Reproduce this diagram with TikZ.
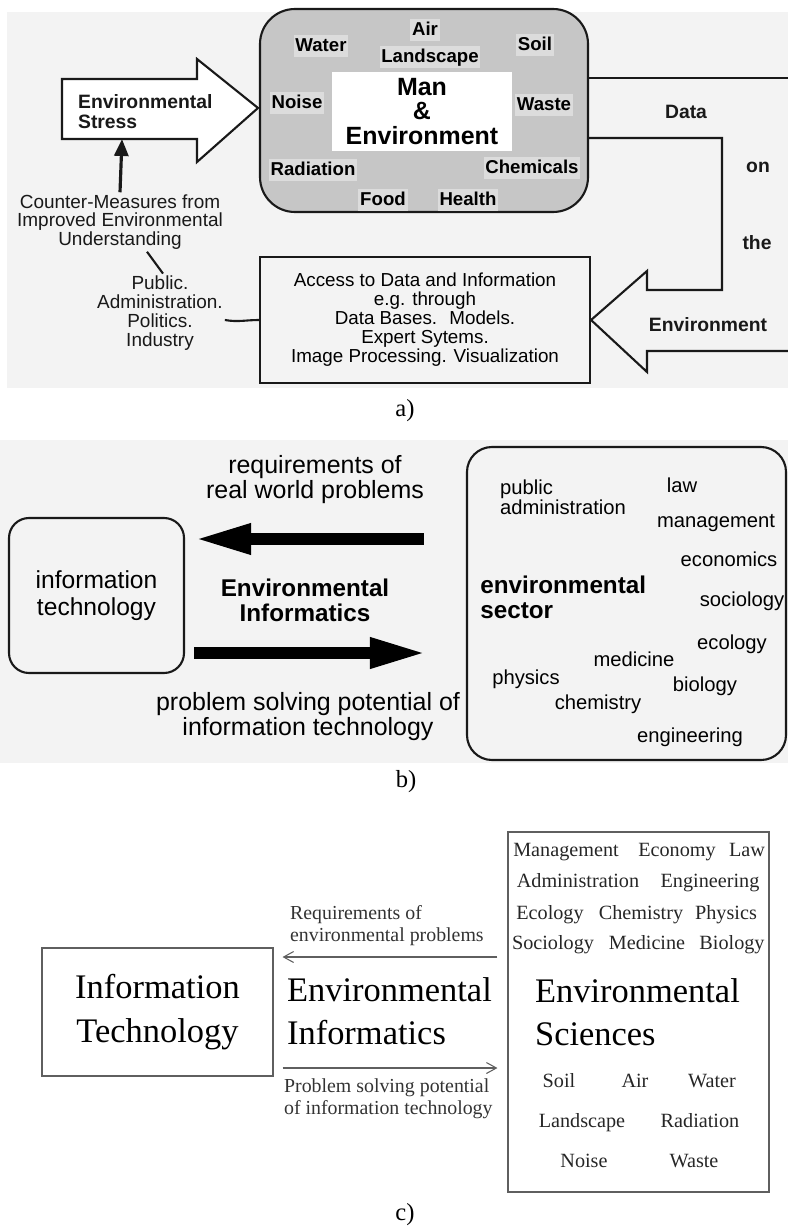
\documentclass[tikz,border=0pt]{standalone}
\usepackage{fontspec}
\setmainfont{Liberation Serif}
\newfontfamily\helv{Liberation Sans}
\usetikzlibrary{arrows.meta,positioning,calc}
\definecolor{ink}{RGB}{25,25,25}
\definecolor{scan}{RGB}{243,243,243}
\definecolor{slate}{RGB}{198,198,198}
\definecolor{wordbg}{RGB}{220,220,220}
\definecolor{pencil}{RGB}{95,95,95}
\newcommand{\fsz}[2]{\fontsize{#1}{#2}\selectfont}
\tikzset{
  >={Stealth[length=2.6mm]},
  outline/.style={draw=ink,line width=1.2pt},
  blob/.style={draw=ink,fill=slate,line width=1.2pt,rounded corners=7mm,
    minimum width=65.6mm,minimum height=40.6mm},
  core/.style={fill=white,minimum width=36mm,minimum height=14.6mm,align=center,
    font=\helv\bfseries\fsz{14.2}{14}},
  word/.style={fill=wordbg,inner sep=1pt,text height=8pt,text depth=2.2pt,
    font=\helv\bfseries\fsz{10.6}{12}},
  tag/.style={font=\helv\bfseries\fsz{11}{11.4},align=left,inner sep=1pt,text=ink},
  note/.style={font=\helv\fsz{10.8}{10.7},align=center,inner sep=1pt,text=ink},
  push/.style={draw=ink,line width=1.8pt,-{Triangle[length=3.4mm,width=2.8mm]}},
  link/.style={draw=ink,line width=1.2pt},
  deskbox/.style={draw=ink,line width=1.2pt,align=center,font=\helv\fsz{10.7}{10.8}},
  round box/.style={draw=ink,line width=1.2pt,rounded corners=#1,align=center,
    font=\helv\fsz{14}{15.4}},
  round box/.default=4mm,
  fat/.style={draw=black,line width=2.4mm,-{Triangle[length=11.4mm,width=5.6mm]}},
  say/.style={font=\helv\fsz{14.2}{14.2},align=center},
  shout/.style={font=\helv\bfseries\fsz{13.8}{14.2},align=center},
  term/.style={font=\helv\fsz{11.5}{11.4},inner sep=1pt,align=left},
  oneline/.style={text height=8.2pt,text depth=2.6pt},
  plain box/.style={draw=pencil,line width=0.6pt},
  big serif/.style={font=\fsz{19.6}{24.6},align=left,inner sep=1pt},
  small serif/.style={font=\fsz{11.3}{12.5},align=left,inner sep=1pt,text=black!80},
  subject/.style={font=\fsz{11.5}{12},inner sep=1pt,text=black!85,oneline},
  thin flow/.style={draw=pencil,line width=0.6pt,-{Straight Barb[length=2mm,width=2.2mm]}},
  caption/.style={font=\fsz{14}{14}},
}
\begin{document}
\begin{tikzpicture}[x=0.2mm,y=-0.2mm]
  \useasboundingbox (0,0) rectangle (788,1227);
  % a) man and environment
  \fill[scan] (7,12) rectangle (788,388);
  \node[blob] (me) at (424,110.5) {};
  \node[core] (man) at (422,111.5) {Man\\\&\\Environment};
  \foreach \w/\x/\y in {Water/321/46,Air/425/30,Landscape/430/57,Soil/535/45,
      Noise/297/103,Waste/544/105,Radiation/313/170,Chemicals/532/168,
      Food/383/200,Health/468/200}
    \node[word] (w\w) at (\x,\y) {\w};
  \draw[outline,fill=white] (62,79) -- (197,79) -- (197,59) -- (258,108)
    -- (197,162) -- (197,139) -- (62,139) -- cycle;
  \node[tag,anchor=west] (stress) at (76,112) {Environmental\\Stress};
  \coordinate (stressfoot) at (122,139);
  \node[note] (counter) at (120,222) {Counter-Measures from\\Improved Environmental\\Understanding};
  \draw[push] (counter.north) -- (stressfoot);
  \node[note,font=\helv\fsz{10.8}{10.8}] (public) at (160,313) {Public.\\Administration.\\Politics.\\Industry};
  \draw[link] ([xshift=5.4mm]counter.south) -- ([xshift=0.6mm]public.north);
  \node[deskbox,minimum width=66mm,minimum height=25.2mm] (access) at (425,320)
    {Access to Data and Information\\e.g. through\\Data Bases. \ Models.\\Expert Sytems.\\Image Processing. Visualization};
  \draw[link] ([yshift=-1.4mm]public.east) to[out=-10,in=180] (access.west);
  \draw[outline] (me.east |- 0,78) -- (790,78);
  \draw[outline,line join=miter] (me.east |- 0,138) -- (722,138) -- (722,290) -- (647,290)
    -- (647,271) -- (access.east) -- (647,372) -- (647,351) -- (790,351);
  \node[tag] (data) at (686,112) {Data};
  \node[tag] (on) at (758,167) {on};
  \node[tag] (the) at (757,243) {the};
  \node[tag] (envir) at (708,325) {Environment};
  \node[caption] (capa) at (405,411) {a)};
  % b) environmental sector
  \fill[scan] (0,440) rectangle (788,763);
  \node[round box,minimum width=35mm,minimum height=31mm] (itb) at (96.5,595.5) {information\\technology};
  \node[round box=5mm,minimum width=63.8mm,minimum height=62.6mm] (esb) at (626.5,603.5) {};
  \draw[fat] ($(esb.west)+(-42,-64.5)$) -- ($(itb.east)+(9,-56.5)$);
  \draw[fat] ($(itb.east)+(9,57.5)$) -- ($(esb.west)+(-39,49.5)$);
  \node[say] (req) at (315,480) {requirements of\\real world problems};
  \node[shout] (ei) at (305,600) {Environmental\\Informatics};
  \node[say] (pot) at (308,717) {problem solving potential of\\information technology};
  \node[shout,align=left,anchor=west,inner sep=0pt] (sector) at (480,597) {environmental\\sector};
  \node[term,anchor=west] (padm) at (498,497) {public\\administration};
  \foreach \w/\x/\y in {law/682/488,management/716/523,economics/729/562,
      sociology/742/602,ecology/732/645,medicine/634/662,physics/526/680,
      biology/705/687,chemistry/598/705,engineering/690/738}
    \node[term,oneline] (t\w) at (\x,\y) {\w};
  \node[caption] (capb) at (406,782) {b)};
  % c) environmental sciences
  \node[plain box,minimum width=46.2mm,minimum height=25.6mm,big serif,align=center] (itc) at (157.5,1012) {Information\\Technology};
  \node[big serif,anchor=west] (eic) at (285,1011) {Environmental\\Informatics};
  \node[plain box,minimum width=52.2mm,minimum height=72mm] (esc) at (638.5,1012) {};
  \draw[thin flow] ($(esc.west)+(-10,-55)$) -- ($(itc.east)+(9,-55)$);
  \draw[thin flow] ($(itc.east)+(9,56)$) -- ($(esc.west)+(-10,56)$);
  \node[small serif,anchor=west] (reqc) at (288,926) {Requirements of\\environmental problems};
  \node[small serif,anchor=west] (potc) at (282,1099) {Problem solving potential\\of information technology};
  \foreach \w/\x/\y in {Management/566/852,Economy/677/852,Law/747/852,
      Administration/578/883,Engineering/710/883,
      Ecology/550/915,Chemistry/641/915,Physics/726/915,
      Sociology/553/945,Medicine/647/945,Biology/732/945,
      Soil/559/1083,Air/635/1083,Water/712/1083,
      Landscape/582/1123,Radiation/700/1123,Noise/584/1163,Waste/694/1163}
    \node[subject] (s\w) at (\x,\y) {\w};
  \node[big serif,anchor=west] (sci) at (533,1012) {Environmental\\Sciences};
  \node[caption] (capc) at (405,1215) {c)};
\end{tikzpicture}
\end{document}
